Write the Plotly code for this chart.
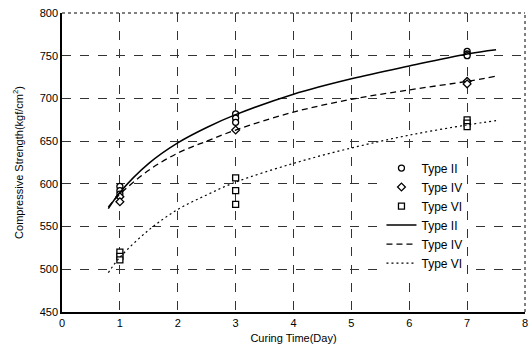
import plotly.graph_objects as go

# Measured points
pt_x_II = [1, 1, 1, 3, 3, 3, 7, 7, 7]
pt_y_II = [597, 592, 588, 682, 677, 672, 755, 752, 750]
pt_x_IV = [1, 1, 3, 7, 7]
pt_y_IV = [585, 579, 663, 720, 717]
pt_x_VI = [1, 1, 1, 3, 3, 3, 7, 7, 7]
pt_y_VI = [520, 515, 511, 607, 592, 576, 675, 671, 667]

# Fitted curves
cx = [0.8, 1, 1.5, 2, 2.5, 3, 4, 5, 6, 7, 7.5]
cy_II = [571, 590, 624, 648, 666, 681, 705, 723, 738, 752, 757]
cy_IV = [573, 588, 616, 636, 650, 663, 684, 699, 710, 720, 726]
cy_VI = [496, 514, 546, 570, 587, 602, 624, 642, 657, 669, 674]

names = ["Type II", "Type IV", "Type VI"]

fig = go.Figure()
mk = dict(color="white", size=6, line=dict(color="black", width=1.3))
fig.add_trace(go.Scatter(x=pt_x_II, y=pt_y_II, mode="markers", name=names[0],
                         marker=dict(symbol="circle", **mk)))
fig.add_trace(go.Scatter(x=pt_x_IV, y=pt_y_IV, mode="markers", name=names[1],
                         marker=dict(symbol="diamond", **mk)))
fig.add_trace(go.Scatter(x=pt_x_VI, y=pt_y_VI, mode="markers", name=names[2],
                         marker=dict(symbol="square", **mk)))
fig.add_trace(go.Scatter(x=cx, y=cy_II, mode="lines", name=names[0], line_shape="spline",
                         line=dict(color="black", width=1.5, dash="solid")))
fig.add_trace(go.Scatter(x=cx, y=cy_IV, mode="lines", name=names[1], line_shape="spline",
                         line=dict(color="black", width=1.3, dash="6px,4px")))
fig.add_trace(go.Scatter(x=cx, y=cy_VI, mode="lines", name=names[2], line_shape="spline",
                         line=dict(color="black", width=1.2, dash="2px,3px")))

axis_common = dict(showgrid=True, gridcolor="#333", griddash="dash", gridwidth=1,
                   showline=True, linecolor="black", linewidth=1.5, ticks="",
                   zeroline=False, tickfont=dict(size=11, color="black", family="Arial, Liberation Sans"))
fig.update_xaxes(range=[0, 8], dtick=1, title=dict(text="Curing Time(Day)", standoff=6,
                 font=dict(size=11, color="black")), **axis_common)
fig.update_yaxes(range=[450, 800], dtick=50, title=dict(text="Compressive Strength(kgf/cm<sup>2</sup>)", standoff=14,
                 font=dict(size=11, color="black")), **axis_common)

# top and right dotted borders
fig.add_shape(type="line", xref="paper", yref="paper", x0=0, x1=1, y0=1, y1=1,
              line=dict(color="black", width=1, dash="dot"))
fig.add_shape(type="line", xref="paper", yref="paper", x0=1, x1=1, y0=0, y1=1,
              line=dict(color="black", width=1, dash="dot"))

fig.update_layout(
    width=532, height=350,
    margin=dict(l=62, r=4, t=13, b=38),
    plot_bgcolor="white", paper_bgcolor="white",
    font=dict(family="Arial, Liberation Sans", color="black", size=11),
    legend=dict(x=0.69, y=0.53, xanchor="left", yanchor="top", bgcolor="white",
                font=dict(size=12), tracegroupgap=0, itemwidth=30),
    showlegend=True,
)
fig.write_html("out.html")
